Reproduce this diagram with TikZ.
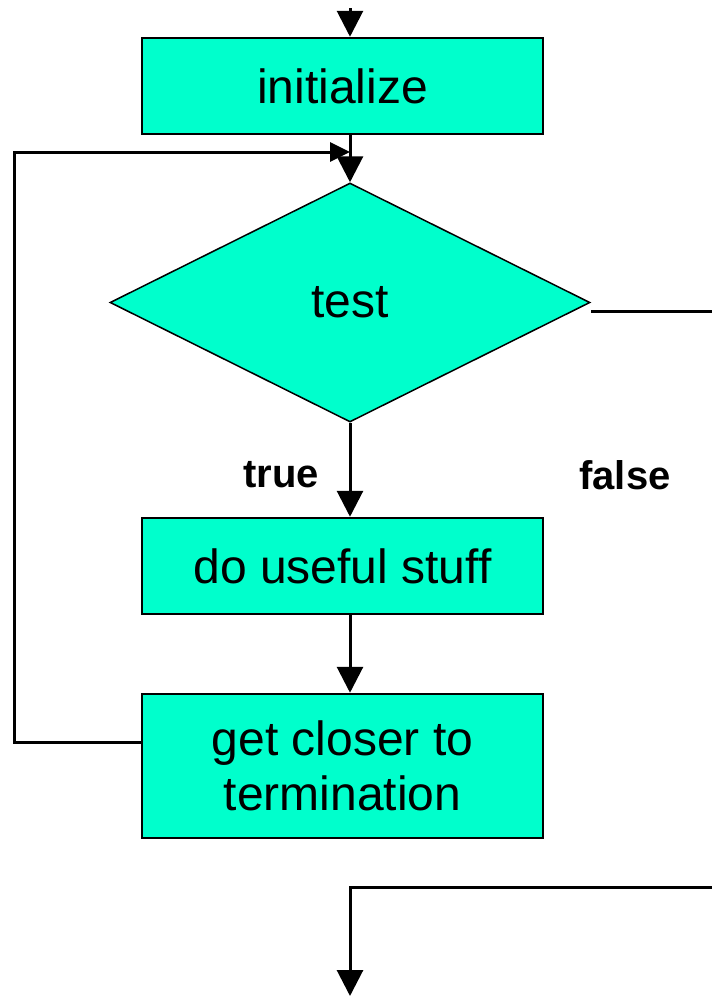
\documentclass[tikz,border=0pt]{standalone}
\usepackage{fontspec}
\setmainfont{Liberation Sans}
\usepackage{tikz}
\usetikzlibrary{arrows.meta,shapes.geometric}

\definecolor{boxfill}{RGB}{0,255,204}

\begin{document}
\begin{tikzpicture}[x=1pt,y=1pt,
    stepbox/.style={draw, line width=2.5pt, fill=boxfill, minimum width=401pt,
      font=\fontsize{48}{55}\selectfont, align=center, inner sep=0pt},
    testbox/.style={draw, line width=1.5pt, fill=boxfill, diamond, aspect=2,
      minimum width=480pt, minimum height=239pt, inner sep=0pt,
      font=\fontsize{48}{55}\selectfont},
    flow/.style={line width=3pt, -{Triangle[length=26pt,width=26pt]}},
    label/.style={font=\fontsize{40}{44}\selectfont\bfseries}]
  \useasboundingbox (0,0) rectangle (712,-996);

  % boxes and decision
  \node[stepbox, minimum height=96pt] (init) at (342.5,-86) {initialize};
  \node[testbox] (test) at (350,-302.5) {test};
  \node[stepbox, minimum height=96pt] (useful) at (342.5,-566) {do useful stuff};
  \node[stepbox, minimum height=144pt] (closer) at (342.5,-766) {get closer to\\termination};

  \node[label] (true) at (281,-475) {true};
  \node[label] (false) at (625,-475) {false};

  % free ends
  \coordinate (entry) at (350,-8);
  \coordinate (leave) at (142,-742);
  \coordinate (back) at (14,-152);
  \coordinate (rejoin) at (350,-152);
  \coordinate (fstart) at (591,-311);
  \coordinate (fout) at (712,-311);
  \coordinate (fin) at (712,-887);
  \coordinate (exit) at (350,-996);

  \draw[flow] (entry) -- (init.north -| entry);
  \draw[flow] (init.south -| test.north) -- (test.north);
  \draw[flow] (test.south) -- (useful.north -| test.south);
  \draw[flow] (useful.south -| test.south) -- (closer.north -| test.south);

  % loop back to the test
  \draw[line width=3pt, -{Triangle[length=20pt,width=19pt]}]
    (leave) -| (back) -- (rejoin);

  % leaving the loop
  \draw[line width=3pt] (fstart) -- (fout);
  \draw[flow] (fin) -| (exit);
\end{tikzpicture}
\end{document}
